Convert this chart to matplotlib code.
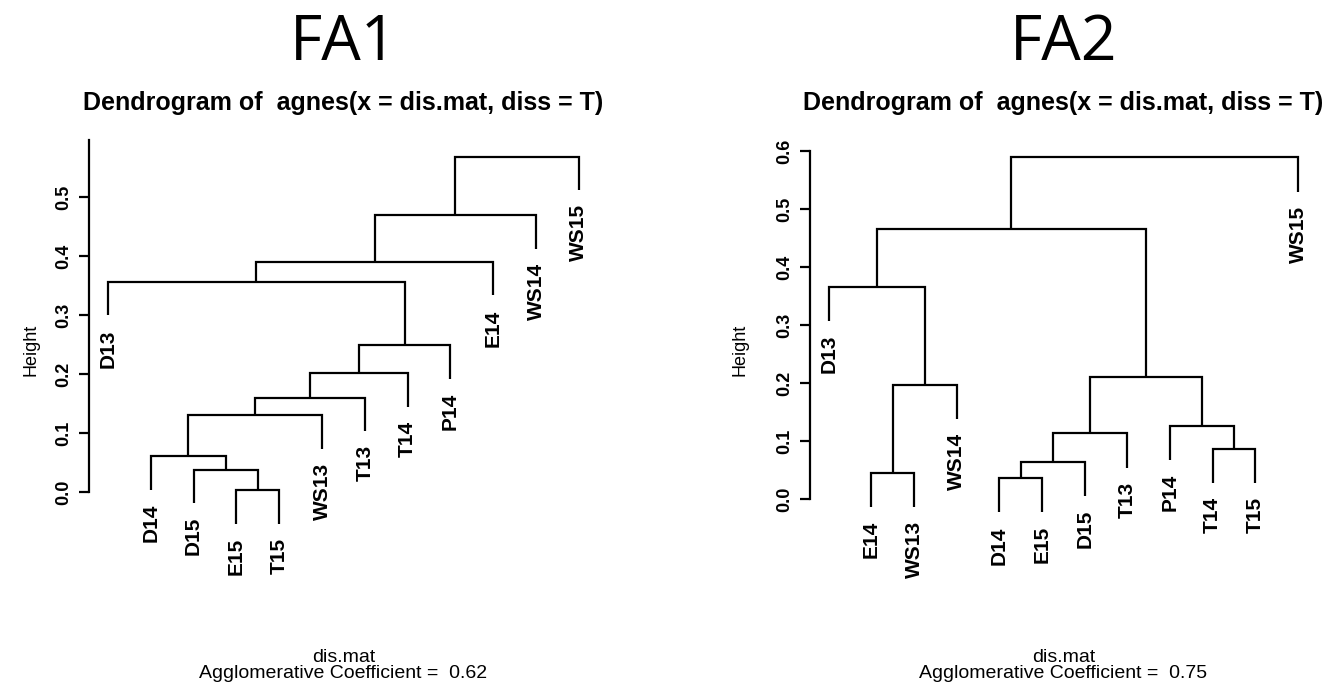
import matplotlib
matplotlib.use("Agg")
import matplotlib.pyplot as plt

# Panel FA1
fa1_leaves = ["D13", "D14", "D15", "E15", "T15", "WS13", "T13", "T14", "P14", "E14", "WS14", "WS15"]
# merges: (left, right, height); ints refer to earlier merges (0-based)
fa1_merges = [
    ("E15", "T15", 0.003),
    ("D15", 0, 0.038),
    ("D14", 1, 0.061),
    (2, "WS13", 0.130),
    (3, "T13", 0.160),
    (4, "T14", 0.201),
    (5, "P14", 0.249),
    ("D13", 6, 0.356),
    (7, "E14", 0.390),
    (8, "WS14", 0.469),
    (9, "WS15", 0.568),
]
fa1_coef = 0.62
fa1_ticks = [0.0, 0.1, 0.2, 0.3, 0.4, 0.5]

# Panel FA2
fa2_leaves = ["D13", "E14", "WS13", "WS14", "D14", "E15", "D15", "T13", "P14", "T14", "T15", "WS15"]
fa2_merges = [
    ("D14", "E15", 0.036),
    ("E14", "WS13", 0.045),
    (0, "D15", 0.064),
    ("T14", "T15", 0.086),
    (2, "T13", 0.113),
    ("P14", 3, 0.126),
    (1, "WS14", 0.197),
    (4, 5, 0.210),
    ("D13", 6, 0.366),
    (8, 7, 0.465),
    (9, "WS15", 0.589),
]
fa2_coef = 0.75
fa2_ticks = [0.0, 0.1, 0.2, 0.3, 0.4, 0.5, 0.6]

W, H = 1327, 687
fig = plt.figure(figsize=(W / 100, H / 100), dpi=100)
fig.patch.set_facecolor("white")

R_FONT = "Liberation Sans"


def draw_panel(name, leaves, merges, coef, ticks, leaf0, step, zero, unit, spine_top, height_x):
    # layout in figure pixels
    left = leaf0 - 0.44 * step
    right = leaf0 + 11.44 * step
    top, bottom = 125, 600
    ax = fig.add_axes([left / W, 1 - bottom / H, (right - left) / W, (bottom - top) / H])
    ax.set_xlim(0.56, len(leaves) + 0.44)
    ax.set_ylim((zero - bottom) / unit, (zero - top) / unit)

    pos = {lab: i + 1 for i, lab in enumerate(leaves)}
    hang = 0.1 * max(m[2] for m in merges)
    mx, mh = [], []

    def node(ref, parent_h):
        if isinstance(ref, int):
            return mx[ref], mh[ref], None
        return pos[ref], parent_h - hang, ref

    for a, b, h in merges:
        xa, ya, la = node(a, h)
        xb, yb, lb = node(b, h)
        ax.plot([xa, xa, xb, xb], [ya, h, h, yb], color="black", lw=1.6,
                solid_capstyle="butt", solid_joinstyle="miter", clip_on=False)
        for lab, x, y in ((la, xa, ya), (lb, xb, yb)):
            if lab is not None:
                ax.annotate(lab, xy=(x, y), xytext=(0, -10), textcoords="offset points",
                            rotation=90, ha="center", va="top", fontsize=15,
                            fontweight="bold", family=R_FONT, annotation_clip=False)
        mx.append((xa + xb) / 2)
        mh.append(h)

    for s in ["top", "right", "bottom"]:
        ax.spines[s].set_visible(False)
    ax.spines["left"].set_bounds(0, spine_top)
    ax.spines["left"].set_linewidth(1.6)
    ax.set_xticks([])
    ax.set_yticks(ticks)
    ax.set_yticklabels([f"{t:.1f}" for t in ticks], family=R_FONT, fontsize=13,
                       fontweight="bold", rotation=90, va="center")
    ax.tick_params(axis="y", length=7, width=1.6, pad=5)
    ax.set_facecolor("none")

    cx = (left + right) / 2
    fig.text(cx / W, 1 - 44 / H, name, ha="center", va="center",
             family="Open Sans", fontsize=45)
    fig.text(cx / W, 1 - 110 / H, "Dendrogram of  agnes(x = dis.mat, diss = T)",
             ha="center", va="baseline", family=R_FONT, fontsize=18, fontweight="bold")
    fig.text(height_x / W, 1 - 350 / H, "Height", rotation=90, ha="center", va="center",
             family=R_FONT, fontsize=13)
    fig.text(cx / W, 1 - 657 / H, "dis.mat", ha="center", va="center",
             family=R_FONT, fontsize=14)
    fig.text(cx / W, 1 - 673 / H, f"Agglomerative Coefficient =  {coef:.2f}", ha="center",
             va="center", family=R_FONT, fontsize=14)


draw_panel("FA1", fa1_leaves, fa1_merges, fa1_coef, fa1_ticks,
           leaf0=108, step=42.8, zero=492, unit=590, spine_top=0.597, height_x=31)
draw_panel("FA2", fa2_leaves, fa2_merges, fa2_coef, fa2_ticks,
           leaf0=828.7, step=42.67, zero=499, unit=580, spine_top=0.6, height_x=740)

fig.savefig("out.png", dpi=100, facecolor="white")
